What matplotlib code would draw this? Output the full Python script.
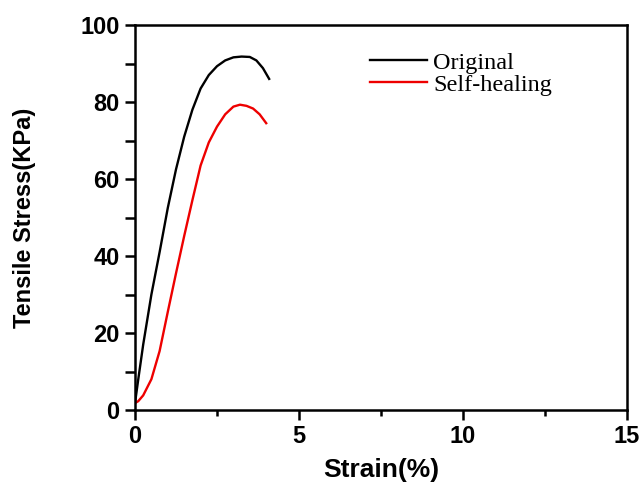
import matplotlib
matplotlib.use("Agg")
import matplotlib.pyplot as plt
from matplotlib.ticker import MultipleLocator

# Tensile test curves
orig_strain = [0, 0.1, 0.25, 0.5, 0.75, 1.0, 1.25, 1.5, 1.75, 2.0, 2.25,
               2.5, 2.75, 3.0, 3.25, 3.5, 3.7, 3.9, 4.09]
orig_stress = [1.8, 8.0, 17.0, 30.0, 41.0, 52.5, 62.5, 71.0, 78.0, 83.5, 87.0,
               89.3, 90.8, 91.6, 91.8, 91.7, 90.8, 88.8, 86.0]

heal_strain = [0, 0.1, 0.25, 0.5, 0.75, 1.0, 1.25, 1.5, 1.75, 2.0, 2.25,
               2.5, 2.75, 3.0, 3.2, 3.4, 3.6, 3.8, 4.0]
heal_stress = [1.8, 2.3, 3.8, 8.0, 15.3, 25.5, 35.5, 45.2, 54.5, 63.5, 69.5,
               73.6, 76.8, 78.8, 79.3, 79.0, 78.3, 76.8, 74.5]

series_labels = ["Original", "Self-healing"]
x_ticks = [0, 5, 10, 15]
y_ticks = [0, 20, 40, 60, 80, 100]

sans = "Liberation Sans"
serif = "Liberation Serif"

fig = plt.figure(figsize=(6.44, 4.84), dpi=100)
ax = fig.add_axes([135 / 644, 1 - 410 / 484, 492 / 644, 385 / 484])

ax.plot(orig_strain, orig_stress, color="black", lw=1.7, label=series_labels[0],
        solid_joinstyle="round")
ax.plot(heal_strain, heal_stress, color="#ee0000", lw=1.7, label=series_labels[1],
        solid_joinstyle="round")

ax.set_xlim(0, 15)
ax.set_ylim(0, 100)
ax.set_xticks(x_ticks)
ax.set_yticks(y_ticks)
ax.xaxis.set_minor_locator(MultipleLocator(2.5))
ax.yaxis.set_minor_locator(MultipleLocator(10))

for s in ax.spines.values():
    s.set_linewidth(1.8)

ax.tick_params(which="major", direction="out", length=7, width=1.8,
               top=False, right=False, pad=4)
ax.tick_params(axis="x", which="minor", direction="out", length=4, width=1.8,
               top=False)
ax.tick_params(axis="y", which="minor", direction="out", length=7, width=1.8,
               right=False)

for lab in ax.get_xticklabels() + ax.get_yticklabels():
    lab.set_fontfamily(sans)
    lab.set_fontweight("bold")
    lab.set_fontsize(17)

ax.set_xlabel("Strain(%)", fontfamily=sans, fontweight="bold", fontsize=19,
              labelpad=7)
ax.set_ylabel("Tensile Stress(KPa)", fontfamily=sans, fontweight="bold",
              fontsize=17, labelpad=32)

ax.legend(loc="upper left", bbox_to_anchor=(0.478, 0.93), frameon=False,
          prop={"family": serif, "size": 17.5}, handlelength=2.35,
          handletextpad=0.25, labelspacing=0.0, borderpad=0, borderaxespad=0)

fig.savefig("out.png", dpi=100)
